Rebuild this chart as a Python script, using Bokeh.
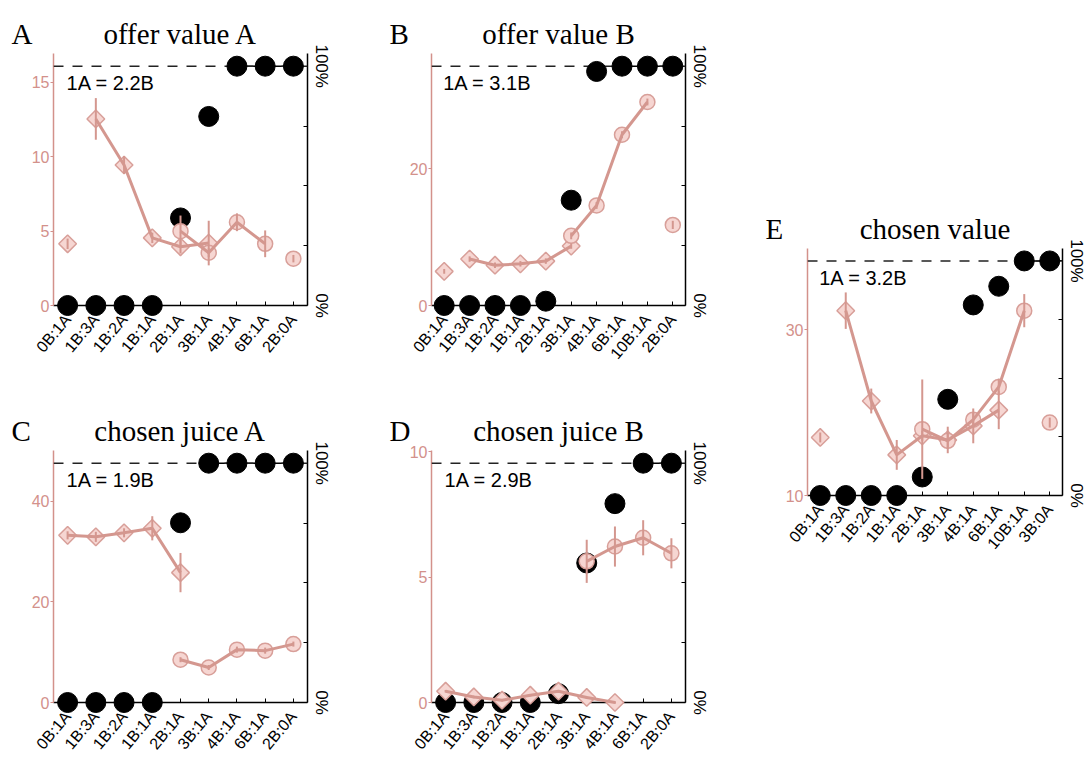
import math
from bokeh.plotting import figure
from bokeh.models import Range1d, LinearAxis, FixedTicker, Span, Label, Spacer
from bokeh.core.properties import value
from bokeh.layouts import row, column
from bokeh.embed import file_html
from bokeh.resources import INLINE

nan = float("nan")

# ---------------- data ----------------
cats_A = ["0B:1A", "1B:3A", "1B:2A", "1B:1A", "2B:1A", "3B:1A", "4B:1A", "6B:1A", "2B:0A"]
pct_A = [0, 0, 0, 0, 36.6, 79, 100, 100, 100]
diam_A = [4.15, 12.55, 9.45, 4.55, 3.95, 4.2, nan, nan, nan]
diam_err_A = [0.35, 1.4, 0.6, 0.35, 0.45, 1.5, 0, 0, 0]
diam_link_A = [0, 1, 1, 1, 1, 1, 0, 0, 0]
circ_A = [nan, nan, nan, nan, 5.0, 3.55, 5.6, 4.15, 3.15]
circ_err_A = [0, 0, 0, 0, 1.05, 0.3, 0.6, 0.9, 0.25]
circ_link_A = [0, 0, 0, 0, 1, 1, 1, 1, 0]

cats_B = ["0B:1A", "1B:3A", "1B:2A", "1B:1A", "2B:1A", "3B:1A", "4B:1A", "6B:1A", "10B:1A", "2B:0A"]
pct_B = [0, 0, 0, 0, 1.8, 44, 97.8, 100, 100, 100]
diam_B = [5.0, 6.8, 5.9, 6.1, 6.5, 8.7, nan, nan, nan, nan]
diam_err_B = [0.35, 0.4, 0.4, 0.4, 0.4, 0.4, 0, 0, 0, 0]
diam_link_B = [0, 1, 1, 1, 1, 1, 0, 0, 0, 0]
circ_B = [nan, nan, nan, nan, nan, 10.2, 14.65, 25.0, 29.8, 11.8]
circ_err_B = [0, 0, 0, 0, 0, 0.5, 0.5, 0.5, 0.5, 0.6]
circ_link_B = [0, 0, 0, 0, 0, 1, 1, 1, 1, 0]

cats_C = ["0B:1A", "1B:3A", "1B:2A", "1B:1A", "2B:1A", "3B:1A", "4B:1A", "6B:1A", "2B:0A"]
pct_C = [0, 0, 0, 0, 75.1, 100, 100, 100, 100]
diam_C = [33.2, 32.9, 33.7, 34.6, 25.8, nan, nan, nan, nan]
diam_err_C = [0.8, 1.0, 0.9, 2.4, 3.9, 0, 0, 0, 0]
diam_link_C = [1, 1, 1, 1, 1, 0, 0, 0, 0]
circ_C = [nan, nan, nan, nan, 8.5, 6.95, 10.5, 10.3, 11.6]
circ_err_C = [0, 0, 0, 0, 0.5, 0.5, 0.6, 0.6, 0.5]
circ_link_C = [0, 0, 0, 0, 1, 1, 1, 1, 1]

cats_D = ["0B:1A", "1B:3A", "1B:2A", "1B:1A", "2B:1A", "3B:1A", "4B:1A", "6B:1A", "2B:0A"]
pct_D = [0, 0, 0, 0, 3.7, 58.3, 83.1, 100, 100]
diam_D = [0.45, 0.22, 0.09, 0.29, 0.45, 0.2, 0.0, nan, nan]
diam_err_D = [0.05, 0.05, 0.05, 0.05, 0.05, 0.05, 0.05, 0, 0]
diam_link_D = [1, 1, 1, 1, 1, 1, 1, 0, 0]
circ_D = [nan, nan, nan, nan, nan, 5.63, 6.22, 6.57, 5.95]
circ_err_D = [0, 0, 0, 0, 0, 0.86, 0.8, 0.7, 0.6]
circ_link_D = [0, 0, 0, 0, 0, 1, 1, 1, 1]

cats_E = ["0B:1A", "1B:3A", "1B:2A", "1B:1A", "2B:1A", "3B:1A", "4B:1A", "6B:1A", "10B:1A", "3B:0A"]
pct_E = [0, 0, 0, 0, 7.9, 41, 81.25, 89.2, 100, 100]
diam_E = [17.0, 32.3, 21.4, 14.9, 17.2, 16.7, 18.4, 20.3, nan, nan]
diam_err_E = [0.6, 2.2, 1.5, 1.8, 0.6, 1.6, 2.1, 2.3, 0, 0]
diam_link_E = [0, 1, 1, 1, 1, 1, 1, 1, 0, 0]
circ_E = [nan, nan, nan, nan, 18.0, 16.6, 19.15, 23.1, 32.3, 18.8]
circ_err_E = [0, 0, 0, 0, 6.0, 0.8, 0.8, 1.0, 2.0, 0.6]
circ_link_E = [0, 0, 0, 0, 1, 1, 1, 1, 1, 0]

pct_ticks = [0, 25, 50, 75, 100]
pct_labels = ["0%", "100%"]
pct_label_at = [0, 100]

PCT_TOP = 105.3

PINK_AX = "#d3918b"
PINK_LINE = "#d4978f"
PINK_EDGE = "#d89f99"
PINK_FILL = "#f6d6d2"
SANS = "Liberation Sans"
SERIF = "Liberation Serif"


def panel(cats, pct, dv, de, dl, cv, ce, cl, ylo, yhi, yticks, letter, title, ratio,
          w, h, bl, br, bt, bb):
    n = len(cats)
    xs = list(range(n))
    p = figure(width=w, height=h, x_range=Range1d(-0.5, n - 0.5), y_range=Range1d(ylo, yhi),
               output_backend="svg", toolbar_location=None,
               min_border_left=bl, min_border_right=br, min_border_top=bt, min_border_bottom=bb)
    p.extra_y_ranges = {"pct": Range1d(0, PCT_TOP)}
    p.xgrid.visible = False
    p.ygrid.visible = False
    p.outline_line_color = None
    p.background_fill_color = "white"
    p.border_fill_color = "white"

    # left axis
    ya = p.yaxis[0]
    ya.ticker = FixedTicker(ticks=yticks)
    ya.axis_line_color = PINK_AX
    ya.axis_line_width = 1.5
    ya.major_tick_line_color = PINK_AX
    ya.major_tick_out = 3
    ya.major_tick_in = 0
    ya.minor_tick_line_color = None
    ya.major_label_text_color = PINK_AX
    ya.major_label_text_font = SANS
    ya.major_label_text_font_size = "16px"
    ya.major_label_standoff = 1

    # bottom axis
    xa = p.xaxis[0]
    xa.ticker = FixedTicker(ticks=xs)
    xa.major_label_overrides = {i: c for i, c in enumerate(cats)}
    xa.major_label_orientation = math.radians(50)
    xa.axis_line_color = "black"
    xa.axis_line_width = 1.5
    xa.major_tick_in = 4
    xa.major_tick_out = 0
    xa.major_tick_line_color = "black"
    xa.minor_tick_line_color = None
    xa.major_label_text_font = SANS
    xa.major_label_text_font_size = "16px"
    xa.major_label_text_color = "black"
    xa.major_label_standoff = 11

    # right axis (percent) - labels drawn as rotated text below
    ra = LinearAxis(y_range_name="pct", ticker=FixedTicker(ticks=pct_ticks))
    ra.major_label_overrides = {t: "" for t in pct_ticks}
    ra.major_label_text_font_size = "1px"
    ra.major_label_standoff = 0
    ra.axis_line_color = "black"
    ra.axis_line_width = 1.5
    ra.major_tick_in = 4
    ra.major_tick_out = 0
    ra.major_tick_line_color = "black"
    ra.minor_tick_line_color = None
    p.add_layout(ra, "right")
    p.text(x=[n - 0.5] * len(pct_labels), y=pct_label_at, text=pct_labels, y_range_name="pct",
           angle=-math.pi / 2, x_offset=14, y_offset=0, text_align="center",
           text_baseline="alphabetic", text_font=value(SANS), text_font_size="17px",
           text_color="black", level="overlay")

    # 100% reference
    p.add_layout(Span(location=100, dimension="width", y_range_name="pct",
                      line_color="#222222", line_width=1.5, line_dash="10 9"))
    top_line = [v if v >= 100 else nan for v in pct]
    p.line(xs, top_line, y_range_name="pct", line_color="black", line_width=1.5)

    # percent choice B (black dots)
    p.scatter(xs, pct, y_range_name="pct", size=20, fill_color="black", line_color="black",
              level="overlay")

    # neuronal responses
    dx = [x for x, v in zip(xs, dv) if v == v]
    dy = [v for v in dv if v == v]
    cx = [x for x, v in zip(xs, cv) if v == v]
    cy = [v for v in cv if v == v]
    p.scatter(dx, dy, marker="square", angle=math.pi / 4, size=12.5, fill_color=PINK_FILL,
              line_color=PINK_EDGE, line_width=1.5, level="overlay")
    p.scatter(cx, cy, marker="circle", size=15, fill_color=PINK_FILL, line_color=PINK_EDGE,
              line_width=1.5, level="overlay")
    dline = [v if l else nan for v, l in zip(dv, dl)]
    cline = [v if l else nan for v, l in zip(cv, cl)]
    p.line(xs, dline, line_color=PINK_LINE, line_width=3, level="overlay")
    p.line(xs, cline, line_color=PINK_LINE, line_width=3, level="overlay")
    ex, e0, e1 = [], [], []
    for vals, errs in ((dv, de), (cv, ce)):
        for x, v, e in zip(xs, vals, errs):
            if v == v:
                ex.append(x)
                e0.append(v - e)
                e1.append(v + e)
    p.segment(ex, e0, ex, e1, line_color=PINK_LINE, line_width=2, level="overlay")

    # texts
    p.add_layout(Label(x=0, y=100, y_range_name="pct", text=ratio, x_offset=-1, y_offset=-6,
                       text_baseline="top", text_align="left", text_font=SANS,
                       text_font_size="20px", text_color="black"))
    p.text(x=[(n - 1) / 2], y=[PCT_TOP], text=[title], y_range_name="pct", y_offset=-20,
           text_align="center", text_baseline="alphabetic", text_font=value(SERIF),
           text_font_size="29px", text_color="black", level="overlay")
    p.text(x=[-0.5], y=[PCT_TOP], text=[letter], y_range_name="pct", x_offset=-42,
           y_offset=-20, text_align="left", text_baseline="alphabetic",
           text_font=value(SERIF), text_font_size="29px", text_color="black",
           level="overlay")
    return p


pA = panel(cats_A, pct_A, diam_A, diam_err_A, diam_link_A, circ_A, circ_err_A, circ_link_A,
           0, 16.95, [0, 5, 10, 15], "A", "offer value A", "1A = 2.2B",
           380, 388, 53, 73, 53, 83)
pB = panel(cats_B, pct_B, diam_B, diam_err_B, diam_link_B, circ_B, circ_err_B, circ_link_B,
           0, 36.9, [0, 20], "B", "offer value B", "1A = 3.1B",
           380, 388, 51, 75, 53, 83)
pC = panel(cats_C, pct_C, diam_C, diam_err_C, diam_link_C, circ_C, circ_err_C, circ_link_C,
           0, 50.05, [0, 20, 40], "C", "chosen juice A", "1A = 1.9B",
           380, 372, 53, 73, 62, 58)
pD = panel(cats_D, pct_D, diam_D, diam_err_D, diam_link_D, circ_D, circ_err_D, circ_link_D,
           0, 10.05, [0, 5, 10], "D", "chosen juice B", "1A = 2.9B",
           380, 372, 51, 75, 62, 58)
pE = panel(cats_E, pct_E, diam_E, diam_err_E, diam_link_E, circ_E, circ_err_E, circ_link_E,
           10, 39.8, [10, 30], "E", "chosen value", "1A = 3.2B",
           325, 360, 47, 23, 48, 60)

layout = row(column(row(pA, pB), row(pC, pD)), column(Spacer(width=325, height=200), pE))

open("out.html", "w").write(file_html(layout, INLINE))
